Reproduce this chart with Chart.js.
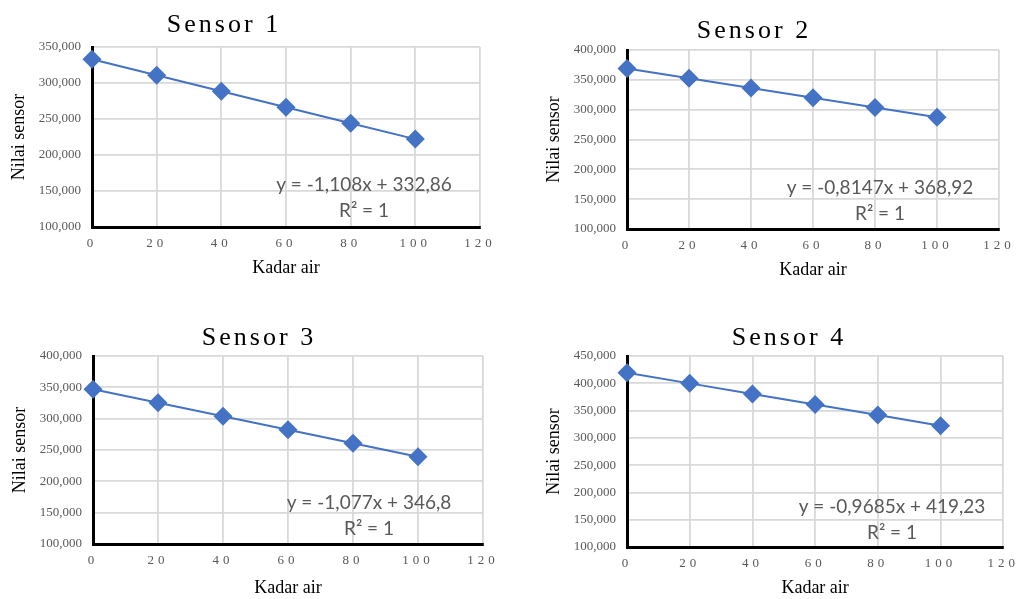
<!DOCTYPE html>
<html lang="id">
<head>
<meta charset="UTF-8">
<title>Sensor - Kadar air</title>
<script src="https://cdn.jsdelivr.net/npm/chart.js@4.4.1/dist/chart.umd.min.js"></script>
<style>
  body { margin: 0; background: #fff; }
  #wrap { position: relative; width: 1022px; height: 599px; }
  #wrap canvas { position: absolute; left: 0; top: 0; }
</style>
</head>
<body>
<div id="wrap">
  <canvas id="c1" width="1022" height="599"></canvas>
  <canvas id="c2" width="1022" height="599"></canvas>
  <canvas id="c3" width="1022" height="599"></canvas>
  <canvas id="c4" width="1022" height="599"></canvas>
</div>
<script>
// data
const kadarAir = [0, 20, 40, 60, 80, 100];
const sensor1 = [332.86, 310.70, 288.54, 266.38, 244.22, 222.06];
const sensor2 = [368.92, 352.63, 336.33, 320.04, 303.74, 287.45];
const sensor3 = [346.80, 325.26, 303.72, 282.18, 260.64, 239.10];
const sensor4 = [419.23, 399.86, 380.49, 361.12, 341.75, 322.38];
const titles = ['Sensor 1', 'Sensor 2', 'Sensor 3', 'Sensor 4'];
const yMax = [350, 400, 400, 450];
const equations = [
  ['y = -1,108x + 332,86', 'R² = 1'],
  ['y = -0,8147x + 368,92', 'R² = 1'],
  ['y = -1,077x + 346,8', 'R² = 1'],
  ['y = -0,9685x + 419,23', 'R² = 1']
];

// where each plot sits in the window
const boxes = [
  {left: 92, right: 480, top: 47, bottom: 227, titleX: 224, titleY: 25, kadarY: 268, eqX: 364, eqY: 185},
  {left: 627, right: 999, top: 50, bottom: 229, titleX: 754, titleY: 31, kadarY: 270, eqX: 880, eqY: 188},
  {left: 93, right: 483, top: 356, bottom: 544, titleX: 259, titleY: 338, kadarY: 588, eqX: 369, eqY: 503},
  {left: 627, right: 1007, top: 356, bottom: 547, titleX: 789, titleY: 338, kadarY: 588, eqX: 892, eqY: 507}
];

const Y_W = 92;
const BLUE = '#4472C4';

const spacedTitle = {
  id: 'spacedTitle',
  afterDraw(chart, args, opts) {
    const ctx = chart.ctx;
    ctx.save();
    ctx.font = '26px "Liberation Serif"';
    ctx.letterSpacing = '3px';
    ctx.fillStyle = '#000';
    ctx.textAlign = 'center';
    ctx.textBaseline = 'middle';
    ctx.fillText(opts.text, opts.x, opts.y);
    ctx.restore();
  }
};

const trendLabel = {
  id: 'trendLabel',
  afterDraw(chart, args, opts) {
    const ctx = chart.ctx;
    ctx.save();
    ctx.font = '19px Lato';
    ctx.fillStyle = '#595959';
    ctx.textAlign = 'center';
    ctx.textBaseline = 'middle';
    opts.lines.forEach((t, i) => ctx.fillText(t, opts.x, opts.y + i * 26));
    ctx.restore();
  }
};

// x tick labels are letter-spaced in the original
const spacedXTicks = {
  id: 'spacedXTicks',
  beforeDraw(chart) {
    const sc = chart.scales.x;
    if (sc._spaced) return;
    const orig = sc.drawLabels;
    sc.drawLabels = function (area) {
      this.ctx.save();
      this.ctx.letterSpacing = '4px';
      orig.call(this, area);
      this.ctx.restore();
    };
    sc._spaced = true;
  }
};

function makeChart(id, values, max, box, title, eq) {
  const xH = box.kadarY - box.bottom + 10.8;
  return new Chart(document.getElementById(id), {
    type: 'scatter',
    data: {
      datasets: [{
        data: kadarAir.map((x, i) => ({x: x, y: values[i]})),
        showLine: true,
        borderColor: BLUE,
        borderWidth: 2,
        backgroundColor: BLUE,
        pointStyle: 'rectRot',
        pointRadius: 9.5,
        pointHoverRadius: 9.5,
        pointBorderWidth: 0,
        clip: false
      }]
    },
    options: {
      responsive: false,
      animation: false,
      devicePixelRatio: 1,
      layout: {
        padding: {
          left: box.left - Y_W,
          right: 1022 - box.right,
          top: box.top,
          bottom: 599 - box.bottom - xH
        }
      },
      plugins: {
        legend: { display: false },
        tooltip: { enabled: false },
        spacedTitle: { text: title, x: box.titleX, y: box.titleY },
        trendLabel: { lines: eq, x: box.eqX, y: box.eqY }
      },
      scales: {
        x: {
          type: 'linear',
          min: 0,
          max: 120,
          afterFit: s => { s.height = xH; },
          ticks: {
            stepSize: 20,
            padding: 9,
            color: '#595959',
            font: { family: 'Liberation Serif', size: 13 }
          },
          grid: {
            color: c => c.index === 0 ? 'rgba(0,0,0,0)' : '#d9d9d9',
            lineWidth: 1.8,
            drawTicks: false
          },
          border: { color: '#000', width: 3 },
          title: {
            display: true,
            text: 'Kadar air',
            color: '#000',
            padding: 0,
            font: { family: 'Liberation Serif', size: 18 }
          }
        },
        y: {
          min: 100,
          max: max,
          afterFit: s => { s.width = Y_W; },
          ticks: {
            stepSize: 50,
            padding: 11,
            color: '#595959',
            font: { family: 'Liberation Serif', size: 13 },
            callback: v => v.toFixed(3).replace('.', ',')
          },
          grid: {
            color: c => c.index === 0 ? 'rgba(0,0,0,0)' : '#d9d9d9',
            lineWidth: 1.8,
            drawTicks: false
          },
          border: { color: '#000', width: 3 },
          title: {
            display: true,
            text: 'Nilai sensor',
            color: '#000',
            padding: { top: 8, bottom: 0 },
            font: { family: 'Liberation Serif', size: 18 }
          }
        }
      }
    },
    plugins: [spacedTitle, trendLabel, spacedXTicks]
  });
}

makeChart('c1', sensor1, yMax[0], boxes[0], titles[0], equations[0]);
makeChart('c2', sensor2, yMax[1], boxes[1], titles[1], equations[1]);
makeChart('c3', sensor3, yMax[2], boxes[2], titles[2], equations[2]);
makeChart('c4', sensor4, yMax[3], boxes[3], titles[3], equations[3]);
</script>
</body>
</html>
